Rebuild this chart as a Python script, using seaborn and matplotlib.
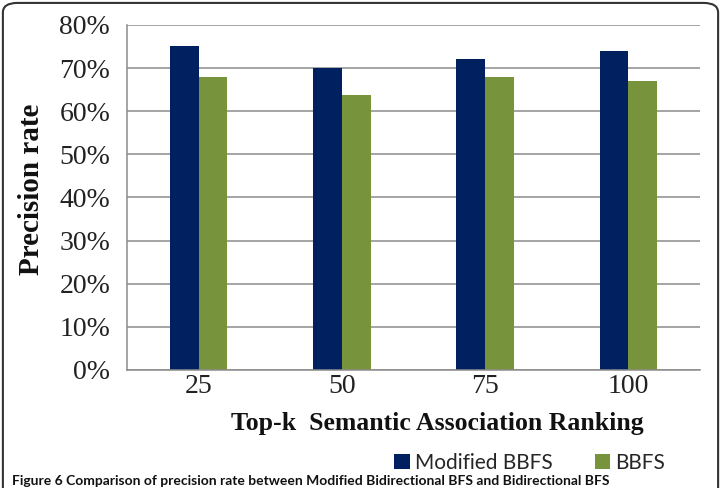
import pandas as pd
import matplotlib
matplotlib.use("Agg")
import matplotlib.pyplot as plt
from matplotlib.patches import FancyBboxPatch, Patch
import seaborn as sns

# data
top_k = ["25", "50", "75", "100"]
modified_bbfs = [75, 70, 72, 74]
bbfs = [68, 63.7, 68, 67]
series_names = ["Modified BBFS", "BBFS"]
y_ticks = [0, 10, 20, 30, 40, 50, 60, 70, 80]

colors = {"Modified BBFS": "#002060", "BBFS": "#77933C"}

df = pd.DataFrame({
    "top_k": top_k * 2,
    "precision": modified_bbfs + bbfs,
    "method": [series_names[0]] * len(top_k) + [series_names[1]] * len(top_k),
})

sns.set_style("white")
plt.rcParams["font.family"] = ["Liberation Serif", "DejaVu Serif"]

fig = plt.figure(figsize=(7.21, 4.88), dpi=100)
ax = fig.add_axes([0.176, 0.242, 0.795, 0.707])

sns.barplot(
    data=df,
    x="top_k",
    y="precision",
    hue="method",
    order=top_k,
    hue_order=series_names,
    palette=colors,
    width=0.4,
    saturation=1,
    linewidth=0,
    edgecolor="none",
    legend=False,
    ax=ax,
)

ax.set_ylim(0, 80)
ax.set_yticks(y_ticks)
ax.set_yticklabels([f"{v}%" for v in y_ticks])
ax.yaxis.grid(True, color="#8c8c8c", linewidth=1.1)
ax.set_axisbelow(True)
ax.tick_params(axis="both", length=0, labelsize=20, colors="#222222")
ax.tick_params(axis="y", pad=12)
ax.tick_params(axis="x", pad=3)
for side in ["top", "right"]:
    ax.spines[side].set_visible(False)
for side in ["left", "bottom"]:
    ax.spines[side].set_color("#8c8c8c")
    ax.spines[side].set_linewidth(1.1)

ax.set_xlabel("")
ax.set_ylabel("")
fig.text(0.606, 0.133, "Top-k  Semantic Association Ranking", ha="center", va="center",
         fontsize=18.5, fontweight="bold", color="#111111")
fig.text(0.043, 0.613, "Precision rate", ha="center", va="center", rotation=90,
         fontsize=21, fontweight="bold", color="#111111")

handles = [Patch(facecolor=colors[n], edgecolor="none") for n in series_names]
fig.legend(handles, series_names, loc="center", bbox_to_anchor=(0.735, 0.051), ncol=2,
           frameon=False, handlelength=0.75, handleheight=0.75, handletextpad=0.25,
           columnspacing=2.0, prop={"family": "Lato", "size": 15})

# outer rounded frame, running off the bottom like the cropped figure
frame = FancyBboxPatch((0.004, -0.2), 0.992, 1.194, boxstyle="round,pad=0,rounding_size=0.02",
                       transform=fig.transFigure, facecolor="none", edgecolor="#333333",
                       linewidth=1.5, clip_on=False)
fig.patches.append(frame)

fig.text(0.017, 0.003, "Figure 6 Comparison of precision rate between Modified Bidirectional BFS and Bidirectional BFS",
         ha="left", va="bottom", fontsize=10, fontweight="bold", family="Lato", color="#111111")

fig.savefig("out.png", dpi=100)
